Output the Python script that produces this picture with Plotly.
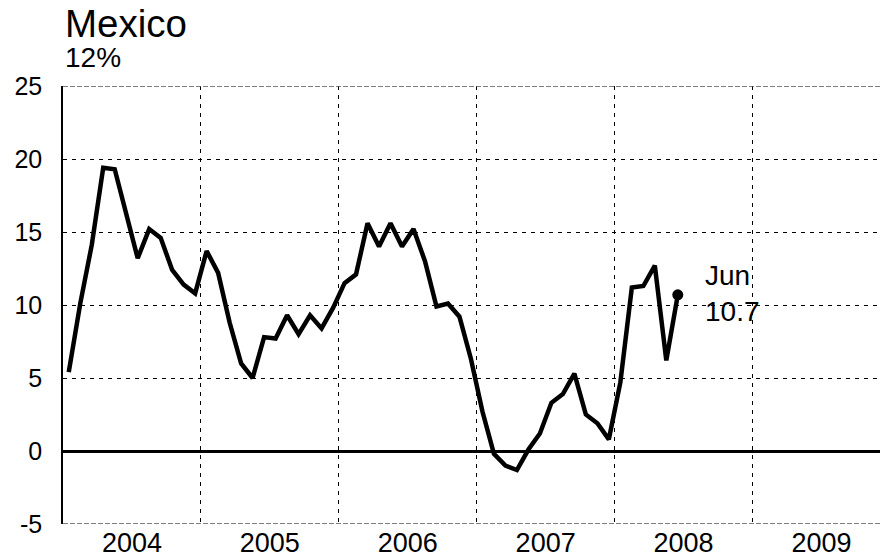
import plotly.graph_objects as go

# ---- data ----
years = [2004, 2005, 2006, 2007, 2008]
values_2004 = [5.4, 10.1, 14.1, 19.4, 19.3, 16.1, 13.2, 15.2, 14.6, 12.4, 11.4, 10.8]
values_2005 = [13.7, 12.2, 8.8, 6.0, 5.0, 7.8, 7.7, 9.3, 8.0, 9.3, 8.4, 9.8]
values_2006 = [11.5, 12.1, 15.6, 14.0, 15.6, 14.0, 15.2, 13.0, 9.9, 10.1, 9.2, 6.3]
values_2007 = [2.7, -0.2, -1.0, -1.3, 0.1, 1.2, 3.3, 3.9, 5.3, 2.5, 1.9, 0.8]
values_2008 = [4.7, 11.2, 11.3, 12.7, 6.2, 10.7]
year_labels = ["2004", "2005", "2006", "2007", "2008", "2009"]
y_ticks = [-5, 0, 5, 10, 15, 20, 25]
last_label = "Jun<br>10.7"

series = values_2004 + values_2005 + values_2006 + values_2007 + values_2008
x = []
for i, _ in enumerate(series):
    yr = years[i // 12]
    m = i % 12
    x.append(yr + (m + 0.5) / 12)

FONT = "Arial, Liberation Sans, sans-serif"

fig = go.Figure()
fig.add_trace(go.Scatter(
    x=x, y=series, mode="lines",
    line=dict(color="black", width=4.5),
    hoverinfo="skip", showlegend=False,
))
fig.add_trace(go.Scatter(
    x=[x[-1]], y=[series[-1]], mode="markers",
    marker=dict(color="black", size=11),
    hoverinfo="skip", showlegend=False,
))

fig.add_annotation(
    x=x[-1], y=series[-1], text=last_label, showarrow=False,
    xanchor="left", yanchor="middle", align="left", xshift=25, yshift=1,
    font=dict(family=FONT, size=28, color="black"),
)
fig.add_annotation(
    xref="paper", yref="paper", x=0, y=1.1438, text="Mexico", showarrow=False,
    xanchor="left", yanchor="middle", xshift=0,
    font=dict(family=FONT, size=38.5, color="black"),
)
fig.add_annotation(
    xref="paper", yref="paper", x=0, y=1.065, text="12%", showarrow=False,
    xanchor="left", yanchor="middle", xshift=0,
    font=dict(family=FONT, size=28, color="black"),
)

# frame lines at the top and bottom of the value range
for yv in (y_ticks[0], y_ticks[-1]):
    fig.add_shape(
        type="line", xref="paper", yref="y", x0=0, x1=1, y0=yv, y1=yv,
        line=dict(color="#555555", width=1.5, dash="5px,2px"), layer="above",
    )

fig.update_layout(
    width=880, height=560,
    margin=dict(l=63, r=0, t=86, b=36),
    paper_bgcolor="white", plot_bgcolor="white",
    font=dict(family=FONT, color="black"),
    xaxis=dict(
        range=[2004, 2004 + (880 - 63) / 137.9],
        tickmode="array",
        tickvals=[int(y) + 0.5 for y in year_labels],
        ticktext=year_labels,
        showgrid=False, zeroline=False, showline=False,
        ticks="", tickfont=dict(family=FONT, size=27, color="black"),
        minor=dict(
            tickmode="array",
            tickvals=[int(y) for y in year_labels[1:]],
            showgrid=True, gridcolor="black", gridwidth=1, griddash="4px,5px",
        ),
        fixedrange=True,
    ),
    yaxis=dict(
        range=[-5, 25],
        tickmode="array", tickvals=y_ticks,
        ticktext=[str(v) for v in y_ticks],
        showgrid=True, gridcolor="black", gridwidth=1, griddash="4px,5px",
        zeroline=True, zerolinecolor="black", zerolinewidth=2.5,
        showline=True, linecolor="black", linewidth=1.5,
        ticks="", ticklabelstandoff=14,
        tickfont=dict(family=FONT, size=25, color="black"),
        fixedrange=True,
    ),
)

fig.write_html(
    "out.html",
    config={"displayModeBar": False},
    post_script="document.body.style.margin='0';document.body.style.overflow='hidden';",
)
